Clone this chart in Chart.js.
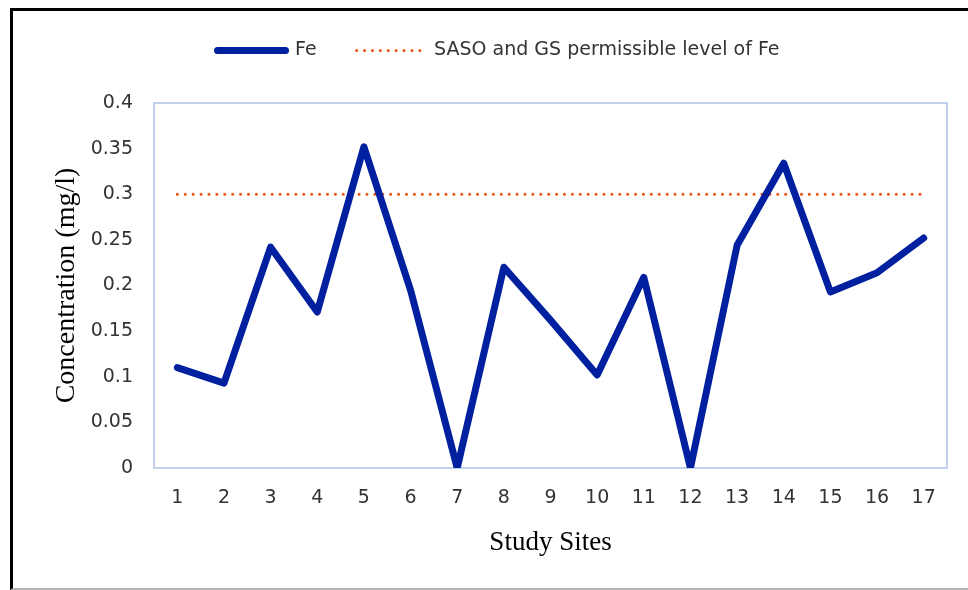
<!DOCTYPE html>
<html>
<head>
<meta charset="utf-8">
<script src="https://cdn.jsdelivr.net/npm/chart.js@4.4.0/dist/chart.umd.min.js"></script>
<style>
  html, body { margin: 0; padding: 0; background: #fff; }
  #wrap { position: relative; width: 968px; height: 590px; overflow: hidden; }
  #frame {
    position: absolute; left: 10px; top: 8px; width: 990px; height: 577px;
    border-top: 3px solid #000; border-left: 3px solid #000; border-bottom: 2px solid #b5b5b5;
  }
  #trendsChart { position: absolute; left: 0; top: 0; }
</style>
</head>
<body>
<div id="wrap">
  <div id="frame"></div>
  <canvas id="trendsChart" width="968" height="590"></canvas>
</div>
<script>
// Data
const sites = ['1', '2', '3', '4', '5', '6', '7', '8', '9', '10', '11', '12', '13', '14', '15', '16', '17'];
const feValues = [0.11, 0.093, 0.242, 0.171, 0.352, 0.195, 0, 0.22, 0.162, 0.102, 0.209, 0, 0.244, 0.334, 0.193, 0.214, 0.252];
const limitValues = [0.3, 0.3, 0.3, 0.3, 0.3, 0.3, 0.3, 0.3, 0.3, 0.3, 0.3, 0.3, 0.3, 0.3, 0.3, 0.3, 0.3];
const yTickLabels = ['0', '0.05', '0.1', '0.15', '0.2', '0.25', '0.3', '0.35', '0.4'];

document.addEventListener('DOMContentLoaded', function() {
    const ctx = document.getElementById('trendsChart').getContext('2d');
    const textColor = '#333333';

    // Light blue box round the plot area
    const plotBorder = {
        id: 'plotBorder',
        beforeDatasetsDraw(chart) {
            const a = chart.chartArea;
            const c = chart.ctx;
            c.save();
            c.strokeStyle = '#aec3e8';
            c.lineWidth = 1.5;
            c.strokeRect(a.left, a.top, a.right - a.left, a.bottom - a.top);
            c.restore();
        }
    };

    // Keep the legend band taller than its text, like the figure
    const legendHeight = {
        id: 'legendHeight',
        beforeLayout(chart) {
            const lg = chart.legend;
            if (lg && !lg._tall) {
                const fit = lg.fit;
                lg.fit = function() {
                    fit.call(this);
                    this.height = 102;
                };
                lg._tall = true;
            }
        }
    };

    new Chart(ctx, {
        type: 'line',
        data: {
            labels: sites,
            datasets: [{
                label: 'Fe',
                data: feValues,
                borderColor: '#00209f',
                backgroundColor: '#00209f',
                borderWidth: 7,
                borderCapStyle: 'round',
                borderJoinStyle: 'round',
                pointRadius: 0,
                tension: 0
            }, {
                label: 'SASO and GS permissible level of Fe',
                data: limitValues,
                borderColor: '#ee5216',
                backgroundColor: '#ee5216',
                borderWidth: 3,
                borderDash: [0.1, 7.8],
                borderCapStyle: 'round',
                pointRadius: 0,
                tension: 0
            }]
        },
        options: {
            responsive: false,
            animation: false,
            layout: { padding: { left: 35, right: 6, top: 1, bottom: 10 } },
            plugins: {
                legend: {
                    position: 'top',
                    labels: {
                        usePointStyle: true,
                        pointStyleWidth: 68,
                        padding: 40,
                        color: textColor,
                        font: { family: 'DejaVu Sans', size: 19 },
                        generateLabels: function(chart) {
                            return chart.data.datasets.map(function(ds, i) {
                                return {
                                    text: ds.label,
                                    fillStyle: ds.borderColor,
                                    strokeStyle: ds.borderColor,
                                    lineWidth: ds.borderWidth,
                                    lineDash: ds.borderDash || [],
                                    lineCap: 'round',
                                    pointStyle: 'line',
                                    fontColor: textColor,
                                    datasetIndex: i
                                };
                            });
                        }
                    }
                },
                tooltip: { enabled: false }
            },
            scales: {
                x: {
                    offset: true,
                    grid: { display: false, drawTicks: false },
                    border: { display: false },
                    ticks: {
                        padding: 19,
                        color: textColor,
                        font: { family: 'DejaVu Sans', size: 19 },
                        maxRotation: 0,
                        autoSkip: false
                    },
                    title: {
                        display: true,
                        text: 'Study Sites',
                        color: '#000',
                        font: { family: 'Liberation Serif', size: 27 },
                        padding: { top: 0, bottom: 21 }
                    },
                    afterFit: function(s) { s.height = 112; }
                },
                y: {
                    min: 0,
                    max: 0.4,
                    grid: { display: false, drawTicks: false },
                    border: { display: false },
                    ticks: {
                        stepSize: 0.05,
                        padding: 21,
                        color: textColor,
                        font: { family: 'DejaVu Sans', size: 19 },
                        callback: function(value, index) {
                            return yTickLabels[index];
                        }
                    },
                    title: {
                        display: true,
                        text: 'Concentration (mg/l)',
                        color: '#000',
                        font: { family: 'Liberation Serif', size: 28 },
                        padding: { top: 15, bottom: 0 }
                    },
                    afterFit: function(s) { s.width = 119; }
                },
                yRight: {
                    position: 'right',
                    grid: { display: false, drawTicks: false },
                    border: { display: false },
                    ticks: { display: false },
                    afterFit: function(s) { s.width = 15; }
                }
            }
        },
        plugins: [plotBorder, legendHeight]
    });
});
</script>
</body>
</html>
